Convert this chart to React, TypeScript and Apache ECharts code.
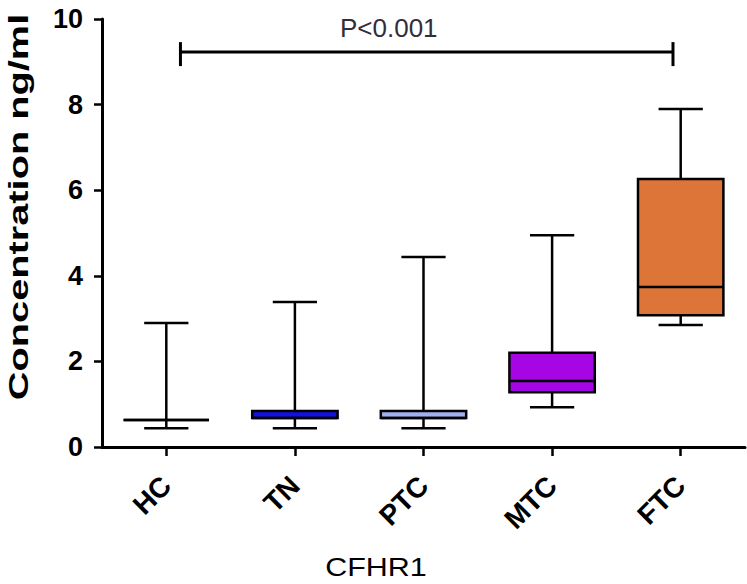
import React, { useEffect, useRef } from "react";
import * as echarts from "echarts";

// ---- data ----
const categories = ["HC", "TN", "PTC", "MTC", "FTC"];
const whiskerLow = [0.44, 0.44, 0.44, 0.93, 2.85];
const quartile1 = [0.63, 0.68, 0.68, 1.28, 3.08];
const medians = [0.63, 0.68, 0.68, 1.54, 3.74];
const quartile3 = [0.63, 0.84, 0.84, 2.2, 6.26];
const whiskerHigh = [2.9, 3.39, 4.44, 4.95, 7.9];
const boxColors = ["#ffffff", "#1212e8", "#a2aef2", "#a506e3", "#de7538"];
const yMin = 0;
const yMax = 10;
const yStep = 2;
const compareFrom = 0;
const compareTo = 4;
const compareLevel = 9.23;
const compareLabel = "P<0.001";
const yTitle = "Concentration ng/ml";
const xTitle = "CFHR1";

const FONT = "'Liberation Sans', Arial, Helvetica, sans-serif";

export default function App() {
  const ref = useRef<HTMLDivElement>(null);

  useEffect(() => {
    if (!ref.current) return;
    const chart = echarts.init(ref.current, undefined, { renderer: "svg" });

    const boxData = categories.map((_, i) => [
      i,
      whiskerLow[i],
      quartile1[i],
      medians[i],
      quartile3[i],
      whiskerHigh[i],
    ]);

    const stroke = { stroke: "#000", lineWidth: 2.5 };

    const option: any = {
      animation: false,
      backgroundColor: "#fff",
      grid: { left: 102, right: 2, top: 19, bottom: 137, containLabel: false },
      xAxis: {
        type: "category",
        data: categories,
        boundaryGap: true,
        axisLine: { show: true, lineStyle: { color: "#000", width: 3 } },
        axisTick: {
          show: true,
          alignWithLabel: true,
          length: 9,
          lineStyle: { color: "#000", width: 2.5 },
        },
        axisLabel: {
          rotate: 45,
          margin: 34,
          color: "#000",
          fontSize: 28,
          fontWeight: "bold",
          fontFamily: FONT,
        },
        splitLine: { show: false },
      },
      yAxis: {
        type: "value",
        min: yMin,
        max: yMax,
        interval: yStep,
        axisLine: { show: true, lineStyle: { color: "#000", width: 3 } },
        axisTick: { show: true, length: 8, lineStyle: { color: "#000", width: 2.5 } },
        axisLabel: {
          margin: 19,
          color: "#000",
          fontSize: 27,
          fontWeight: "bold",
          fontFamily: FONT,
        },
        splitLine: { show: false },
      },
      series: [
        {
          type: "custom",
          data: boxData,
          encode: { x: 0, y: [1, 2, 3, 4, 5] },
          clip: false,
          renderItem: (params: any, api: any) => {
            const i = api.value(0);
            const band = api.size([1, 0])[0];
            const boxW = band * 0.664;
            const capW = band * 0.344;
            const pLow = api.coord([i, api.value(1)]);
            const pQ1 = api.coord([i, api.value(2)]);
            const pMed = api.coord([i, api.value(3)]);
            const pQ3 = api.coord([i, api.value(4)]);
            const pHigh = api.coord([i, api.value(5)]);
            const x = pLow[0];
            return {
              type: "group",
              children: [
                {
                  type: "line",
                  shape: { x1: x, y1: pHigh[1], x2: x, y2: pQ3[1] },
                  style: stroke,
                },
                {
                  type: "line",
                  shape: { x1: x, y1: pQ1[1], x2: x, y2: pLow[1] },
                  style: stroke,
                },
                {
                  type: "line",
                  shape: { x1: x - capW / 2, y1: pHigh[1], x2: x + capW / 2, y2: pHigh[1] },
                  style: stroke,
                },
                {
                  type: "line",
                  shape: { x1: x - capW / 2, y1: pLow[1], x2: x + capW / 2, y2: pLow[1] },
                  style: stroke,
                },
                {
                  type: "rect",
                  shape: {
                    x: x - boxW / 2,
                    y: pQ3[1],
                    width: boxW,
                    height: Math.max(0, pQ1[1] - pQ3[1]),
                  },
                  style: { fill: boxColors[i], stroke: "#000", lineWidth: 2.5 },
                },
                {
                  type: "line",
                  shape: { x1: x - boxW / 2, y1: pMed[1], x2: x + boxW / 2, y2: pMed[1] },
                  style: stroke,
                },
              ],
            };
          },
          z: 2,
        },
        {
          type: "custom",
          data: [[compareFrom, compareTo, compareLevel]],
          encode: { x: [0, 1], y: 2 },
          clip: false,
          renderItem: (params: any, api: any) => {
            const from = api.value(0);
            const to = api.value(1);
            const level = api.value(2);
            const band = api.size([1, 0])[0];
            const pL = api.coord([from, level]);
            const pR = api.coord([to, level]);
            const up = api.coord([from, level + 0.23])[1];
            const down = api.coord([from, level - 0.33])[1];
            const textY = api.coord([from, level + 0.55])[1];
            const x1 = pL[0] + band * 0.11;
            const x2 = pR[0] - band * 0.06;
            const s = { stroke: "#000", lineWidth: 3 };
            return {
              type: "group",
              children: [
                { type: "line", shape: { x1, y1: pL[1], x2, y2: pR[1] }, style: s },
                { type: "line", shape: { x1, y1: up, x2: x1, y2: down }, style: s },
                { type: "line", shape: { x1: x2, y1: up, x2, y2: down }, style: s },
                {
                  type: "text",
                  x: pL[0] + band * 1.73,
                  y: textY,
                  style: {
                    text: compareLabel,
                    fill: "#332d3a",
                    fontSize: 26,
                    fontFamily: FONT,
                    align: "center",
                    verticalAlign: "middle",
                  },
                },
              ],
            };
          },
          z: 3,
        },
      ],
      graphic: [
        {
          type: "text",
          x: 18,
          y: 207,
          rotation: Math.PI / 2,
          scaleX: 1.42,
          style: {
            text: yTitle,
            fill: "#000",
            fontSize: 28,
            fontWeight: "bold",
            fontFamily: FONT,
            align: "center",
            verticalAlign: "middle",
          },
        },
        {
          type: "text",
          x: 376,
          y: 567,
          scaleX: 1.22,
          style: {
            text: xTitle,
            fill: "#000",
            fontSize: 25,
            fontFamily: FONT,
            align: "center",
            verticalAlign: "middle",
          },
        },
      ],
    };

    chart.setOption(option);
    return () => chart.dispose();
  }, []);

  return (
    <div
      ref={ref}
      style={{ position: "fixed", left: 0, top: 0, width: 747, height: 584, background: "#fff" }}
    />
  );
}
